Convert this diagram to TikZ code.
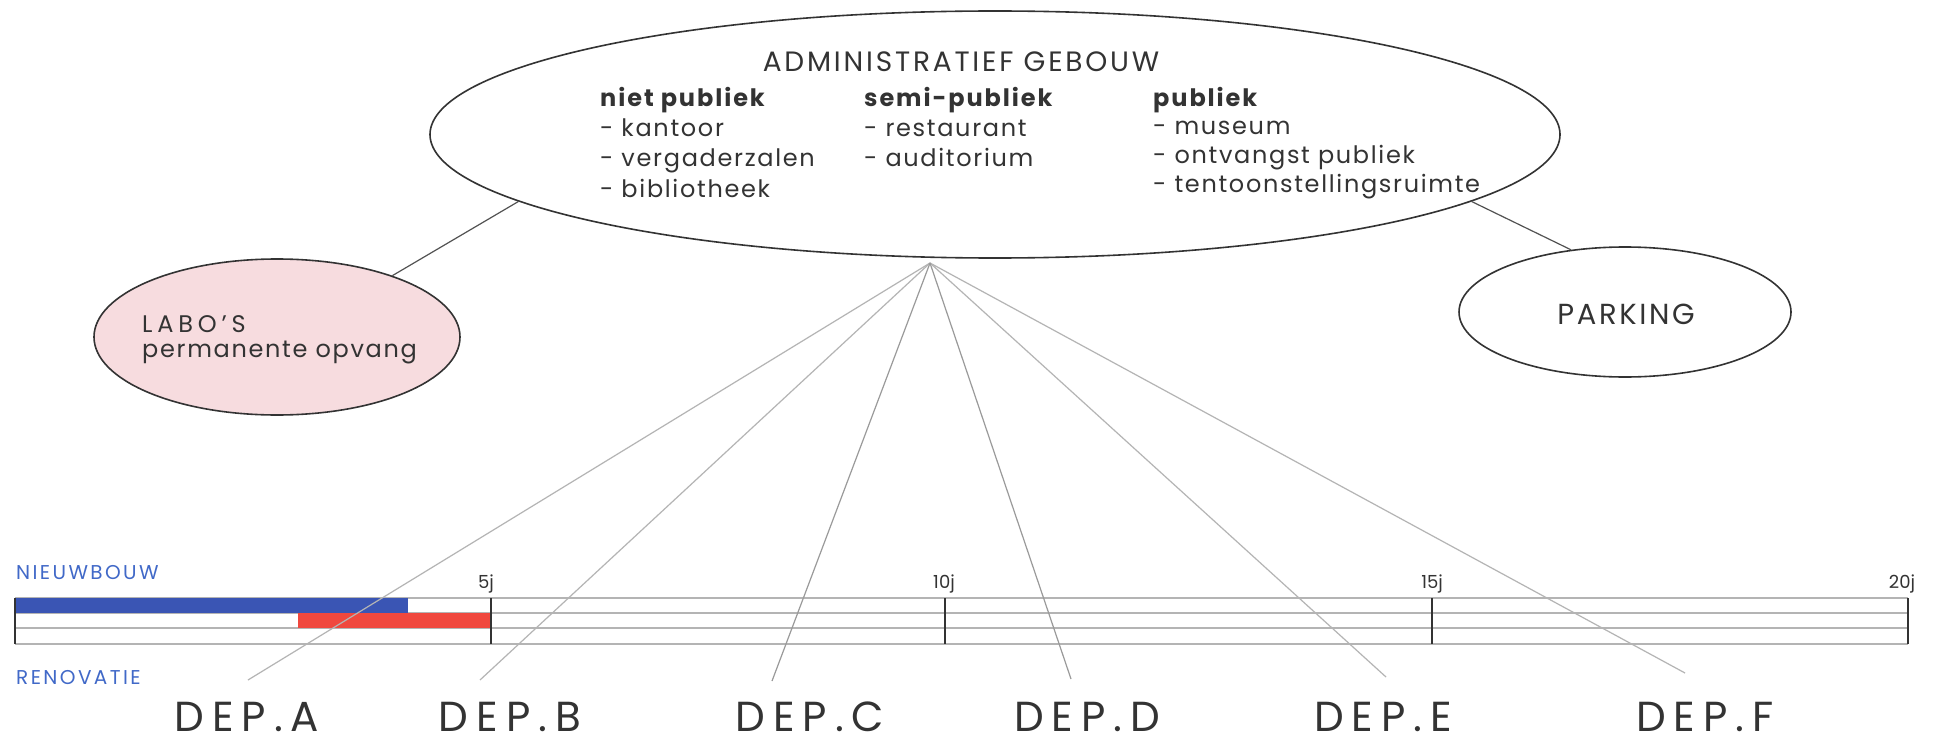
\documentclass[tikz,border=0pt]{standalone}
\usepackage{fontspec}
\setmainfont{Poppins}
\usetikzlibrary{shapes.geometric,calc}
\definecolor{ink}{HTML}{333333}
\definecolor{lgray}{HTML}{B4B4B4}
\definecolor{mgray}{HTML}{9A9A9A}
\definecolor{pinkfill}{HTML}{F7DCDF}
\definecolor{barblue}{HTML}{3A55B4}
\definecolor{barred}{HTML}{F0483E}
\definecolor{lblblue}{HTML}{4169C8}
\begin{document}
\begin{tikzpicture}[x=1pt,y=-1pt,
  bub/.style={ellipse, draw=ink, line width=1.6pt, inner sep=0pt},
  conn/.style={draw=ink!85, line width=1.2pt},
  spoke/.style={draw=lgray, line width=1.2pt},
  darkspoke/.style={draw=mgray, line width=1.2pt},
  gridline/.style={draw=lgray, line width=1.5pt},
  tickline/.style={draw=ink, line width=1.5pt},
  ttlfont/.style={text=ink, inner sep=0pt, font={\fontsize{28}{30}\selectfont\addfontfeatures{LetterSpace=10}}},
  hdfont/.style={text=ink, inner sep=0pt, font={\fontsize{24}{28}\selectfont\bfseries\addfontfeatures{LetterSpace=8}}},
  itfont/.style={text=ink, inner sep=0pt, font={\fontsize{24}{28}\selectfont\addfontfeatures{LetterSpace=7}}},
  bigfont/.style={text=ink, inner sep=0pt, font={\fontsize{29}{32}\selectfont\addfontfeatures{LetterSpace=9}}},
  depfont/.style={text=ink, inner sep=0pt, text height=30pt, text depth=0pt, font={\fontsize{42}{44}\selectfont\addfontfeatures{LetterSpace=19}}},
  tkfont/.style={text=ink, inner sep=0pt, font={\fontsize{18}{20}\selectfont}},
  bluefont/.style={text=lblblue, inner sep=0pt, font={\fontsize{20}{22}\selectfont\addfontfeatures{LetterSpace=12}}}
]
\useasboundingbox (0,0) rectangle (1942,746);
\fill[white] (0,0) rectangle (1942,746);

% bubbles
\node[bub, minimum width=1130pt, minimum height=247pt] (main) at (995,134.5) {};
\node[bub, fill=pinkfill, minimum width=366pt, minimum height=156pt] (labo) at (277,337) {};
\node[bub, minimum width=332pt, minimum height=130pt] (park) at (1625,312) {};

% main texts
\node[ttlfont, anchor=base] (ttl) at (961,72) {ADMINISTRATIEF GEBOUW};
\node[hdfont, anchor=base west] (h1) at (600,107) {niet publiek};
\node[itfont, anchor=base west] (a1) at (600,137) {- kantoor};
\node[itfont, anchor=base west] (a2) at (600,167) {- vergaderzalen};
\node[itfont, anchor=base west] (a3) at (600,197) {- bibliotheek};
\node[hdfont, anchor=base west] (h2) at (864,107) {semi-publiek};
\node[itfont, anchor=base west] (b1) at (864,137) {- restaurant};
\node[itfont, anchor=base west] (b2) at (864,167) {- auditorium};
\node[hdfont, anchor=base west] (h3) at (1153,107) {publiek};
\node[itfont, anchor=base west] (c1) at (1153,135) {- museum};
\node[itfont, anchor=base west] (c2) at (1153,164) {- ontvangst publiek};
\node[itfont, anchor=base west] (c3) at (1153,193) {- tentoonstellingsruimte};

\node[itfont, anchor=base west, font={\fontsize{24}{28}\selectfont\addfontfeatures{LetterSpace=20}}] (l1) at (142,332) {LABO'S};
\node[itfont, anchor=base west] (l2) at (142,357) {permanente opvang};
\node[bigfont, anchor=base] (pk) at (1626,324) {PARKING};

% connectors between bubbles
\draw[conn] (main.188) -- (labo.28);
\draw[conn] (main.-8.3) -- (park.131);

% timeline
\foreach \yy in {598,613,628,644} \draw[gridline] (15,\yy) -- (1908,\yy);
\fill[barblue] (15,598) rectangle (408,613);
\fill[barred] (298,613) rectangle (491,628);
\foreach \xx in {15,491,945,1432,1908} \draw[tickline] (\xx,598) -- (\xx,644);

\node[tkfont, anchor=base] (t5) at (486,588) {5j};
\node[tkfont, anchor=base] (t10) at (944,588) {10j};
\node[tkfont, anchor=base] (t15) at (1432,588) {15j};
\node[tkfont, anchor=base] (t20) at (1902,588) {20j};
\node[bluefont, anchor=base west] (nb) at (16,579) {NIEUWBOUW};
\node[bluefont, anchor=base west] (rn) at (16,684) {RENOVATIE};

% department labels
\node[depfont, anchor=base] (dA) at (247,731) {DEP.A};
\node[depfont, anchor=base] (dB) at (510,731) {DEP.B};
\node[depfont, anchor=base] (dC) at (810,731) {DEP.C};
\node[depfont, anchor=base] (dD) at (1087,731) {DEP.D};
\node[depfont, anchor=base] (dE) at (1383,731) {DEP.E};
\node[depfont, anchor=base] (dF) at (1705,731) {DEP.F};

% spokes
\coordinate (hub) at (930,263);
\coordinate (eA) at (248,680);
\coordinate (eB) at (480,680);
\coordinate (eC) at (772,681);
\coordinate (eD) at (1071,679);
\coordinate (eE) at (1386,677);
\coordinate (eF) at (1685,673);
\foreach \e in {eA,eB,eE,eF} \draw[spoke] (hub) -- (\e);
\foreach \e in {eC,eD} \draw[darkspoke] (hub) -- (\e);
\end{tikzpicture}
\end{document}
